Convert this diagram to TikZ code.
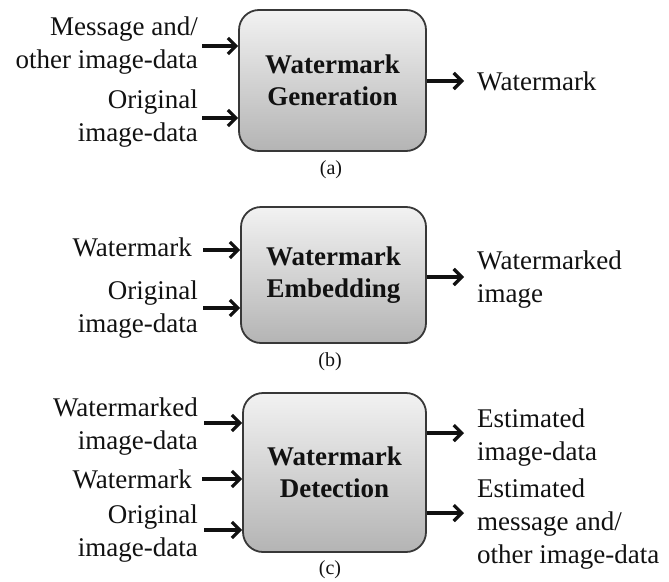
\documentclass[tikz,border=0pt]{standalone}
\usepackage{fontspec}
\setmainfont{Liberation Serif}
\usetikzlibrary{arrows.meta}
\definecolor{boxline}{HTML}{383838}
\definecolor{boxtop}{HTML}{F2F2F2}
\definecolor{boxbot}{HTML}{B4B4B4}
\definecolor{ink}{HTML}{111111}
\tikzset{
  blockbox/.style={draw=boxline, line width=1.8pt, rounded corners=20pt,
    top color=boxtop, bottom color=boxbot, align=center, text=ink,
    font=\bfseries\fontsize{27}{32}\selectfont, inner sep=0pt},
  inlabel/.style={anchor=east, align=right, text=ink, inner sep=0pt,
    font=\fontsize{27}{33}\selectfont},
  outlabel/.style={anchor=west, align=left, text=ink, inner sep=0pt,
    font=\fontsize{27}{33}\selectfont},
  caplabel/.style={text=ink, inner sep=0pt, font=\fontsize{20}{22}\selectfont},
  arr/.style={draw=ink, line width=3.2pt, -{Straight Barb[length=8pt,width=16pt]}},
}
\begin{document}
\begin{tikzpicture}[x=1pt,y=-1pt]
\useasboundingbox (0,0) rectangle (669,581);
% ---------- (a) ----------
\node[blockbox, minimum width=187pt, minimum height=141pt] (A) at (332.5,80.5) {Watermark\\Generation};
\coordinate (a1) at (202,46);
\coordinate (a2) at (202,118);
\coordinate (ao) at (464,81);
\node[inlabel] (la1) at (198,46) {Message and/\\other image-data};
\node[inlabel] (la2) at (198,119) {Original\\image-data};
\node[outlabel] (ra1) at (477,81) {Watermark};
\draw[arr] (a1) -- (A.west |- a1);
\draw[arr] (a2) -- (A.west |- a2);
\draw[arr] (A.east |- ao) -- (ao);
\node[caplabel] (ca) at (331,170) {(a)};
% ---------- (b) ----------
\node[blockbox, minimum width=185pt, minimum height=136pt] (B) at (333.5,275) {Watermark\\Embedding};
\coordinate (b1) at (203,250);
\coordinate (b2) at (203,308);
\coordinate (bo) at (464,277);
\node[inlabel] (lb1) at (192,247) {Watermark};
\node[inlabel] (lb2) at (198,310) {Original\\image-data};
\node[outlabel] (rb1) at (477,280) {Watermarked\\image};
\draw[arr] (b1) -- (B.west |- b1);
\draw[arr] (b2) -- (B.west |- b2);
\draw[arr] (B.east |- bo) -- (bo);
\node[caplabel] (cb) at (330,362) {(b)};
% ---------- (c) ----------
\node[blockbox, minimum width=183pt, minimum height=159pt] (C) at (334.5,472.5) {Watermark\\Detection};
\coordinate (c1) at (204,423);
\coordinate (c2) at (202,479);
\coordinate (c3) at (204,530);
\coordinate (co1) at (464,433);
\coordinate (co2) at (464,513);
\node[inlabel] (lc1) at (198,427) {Watermarked\\image-data};
\node[inlabel] (lc2) at (192,479) {Watermark};
\node[inlabel] (lc3) at (198,534) {Original\\image-data};
\node[outlabel] (rc1) at (477,438) {Estimated\\image-data};
\node[outlabel] (rc2) at (477,524) {Estimated\\message and/\\other image-data};
\draw[arr] (c1) -- (C.west |- c1);
\draw[arr] (c2) -- (C.west |- c2);
\draw[arr] (c3) -- (C.west |- c3);
\draw[arr] (C.east |- co1) -- (co1);
\draw[arr] (C.east |- co2) -- (co2);
\node[caplabel] (cc) at (330,570) {(c)};
\end{tikzpicture}
\end{document}
